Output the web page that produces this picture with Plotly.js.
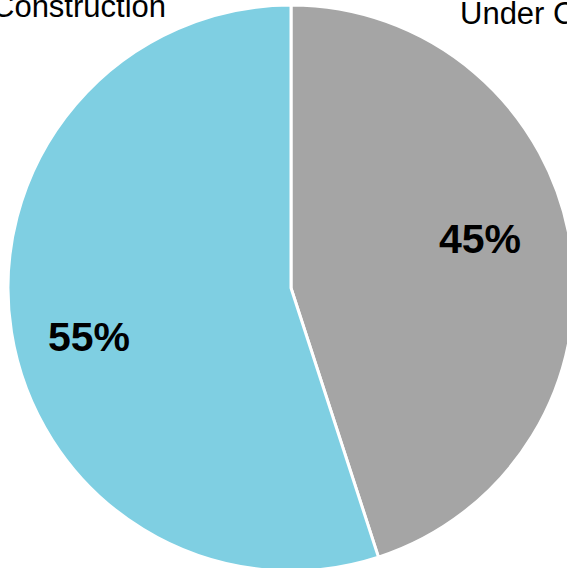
<!DOCTYPE html>
<html>
<head>
<meta charset="utf-8">
<script src="https://cdn.plot.ly/plotly-3.0.1.min.js"></script>
<style>
html, body { margin: 0; padding: 0; overflow: hidden; background: #fff; width: 567px; height: 568px; }
#chart { width: 575px; height: 575px; }
</style>
</head>
<body>
<div id="chart"></div>
<script>
// Data
const categories = ["Under Construction", "Construction"];
const shares = [45, 55];
const sliceColors = ["#A5A5A5", "#7FCFE2"];

// Layout helpers (pixel geometry of the 575x575 paper)
const W = 575, H = 575;
const px = x => x / W;
const py = y => 1 - y / H;

const total = shares.reduce((a, b) => a + b, 0);
const pctText = shares.map(v => Math.round(v / total * 100) + '%');

// label positions (pixels) for percentages and category names
const pctPos = [[480, 239], [89, 337]];
const catPos = [{x: 458, y: 14, xanchor: 'left'}, {x: 168, y: 7, xanchor: 'right'}];

const annotations = [];
shares.forEach((v, i) => {
  annotations.push({
    xref: 'paper', yref: 'paper', x: px(pctPos[i][0]), y: py(pctPos[i][1]),
    xanchor: 'center', yanchor: 'middle', showarrow: false,
    text: '<b>' + pctText[i] + '</b>',
    font: {family: 'Arial, "Liberation Sans", sans-serif', size: 41, color: '#000'}
  });
  annotations.push({
    xref: 'paper', yref: 'paper', x: px(catPos[i].x), y: py(catPos[i].y),
    xanchor: catPos[i].xanchor, yanchor: 'middle', showarrow: false,
    text: categories[i],
    font: {family: 'Arial, "Liberation Sans", sans-serif', size: 31, color: '#000'}
  });
});

const cx = 291, cy = 288, r = 283;
const trace = {
  type: 'pie',
  labels: categories,
  values: shares,
  sort: false,
  direction: 'clockwise',
  rotation: 0,
  marker: {colors: sliceColors, line: {color: '#ffffff', width: 3}},
  textinfo: 'none',
  hoverinfo: 'label+percent',
  domain: {x: [(cx - r) / W, (cx + r) / W], y: [(H - cy - r) / H, (H - cy + r) / H]}
};

Plotly.newPlot('chart', [trace], {
  width: W, height: H,
  margin: {l: 0, r: 0, t: 0, b: 0, pad: 0},
  showlegend: false,
  paper_bgcolor: '#ffffff',
  annotations: annotations
}, {displayModeBar: false, staticPlot: true});
</script>
</body>
</html>
